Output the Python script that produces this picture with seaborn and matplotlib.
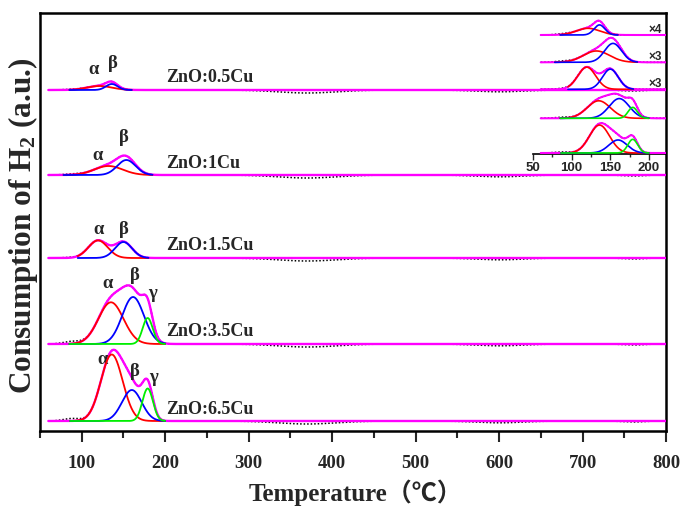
import numpy as np
import seaborn as sns
import matplotlib.pyplot as plt
from matplotlib.ticker import MultipleLocator

# samples, from top to bottom
samples = ['ZnO:0.5Cu', 'ZnO:1Cu', 'ZnO:1.5Cu', 'ZnO:3.5Cu', 'ZnO:6.5Cu']
offsets = [341, 256, 173, 87, 10]          # vertical stacking (main panel)
inset_offsets = [119, 91.7, 64.7, 35.7, 1]  # vertical stacking (inset)
inset_mult = [4, 3, 3, 1, 1]
inset_labels = ['×4', '×3', '×3', '', '']

# fitted reduction peaks: centre (°C), height (a.u.), sigma (°C)
alpha_center = [121, 132, 119.5, 135, 136]
alpha_height = [4.0, 9.0, 17.6, 41.7, 66.5]
alpha_sigma = [15, 17, 11.6, 15, 13]
beta_center = [136, 153.5, 150, 161.5, 160]
beta_height = [6.0, 15.0, 16.0, 47.0, 31.0]
beta_sigma = [7, 11, 10.2, 13, 11.8]
gamma_center = [180, 180, 180, 179, 179]
gamma_height = [0, 0, 0, 26.0, 32.5]
gamma_sigma = [6, 6, 6, 6, 6.3]

# temperature span over which the fitted components were drawn
fit_lo = [85, 78, 95, 85, 86]
fit_hi = [160, 185, 180, 200, 200]

# measured signal: low temperature shoulder and negative baseline drifts
shoulder_height = [0.5, 0.8, 0.5, 2.5, 2.5]
dip_center = [370, 600, 760]
dip_sigma = [35, 28, 12]
dip_depth = [3.0, 1.8, 1.0]

# peak labels (x in °C, y relative to each baseline)
greek = [
    [('α', 114, 20), ('β', 137, 27)],
    [('α', 119, 20), ('β', 150, 38)],
    [('α', 120, 28), ('β', 150, 28)],
    [('α', 131, 61), ('β', 164, 69), ('γ', 185, 51)],
    [('α', 125, 61), ('β', 164, 49), ('γ', 186, 43)],
]


def gauss(t, c, h, s):
    return h * np.exp(-(t - c) ** 2 / (2 * s ** 2))


def components(t, i):
    a = gauss(t, alpha_center[i], alpha_height[i], alpha_sigma[i])
    b = gauss(t, beta_center[i], beta_height[i], beta_sigma[i])
    g = gauss(t, gamma_center[i], gamma_height[i], gamma_sigma[i])
    return a, b, g


def measured(t, i):
    a, b, g = components(t, i)
    y = a + b + g + gauss(t, 88, shoulder_height[i], 10)
    for c, s, d in zip(dip_center, dip_sigma, dip_depth):
        y = y - gauss(t, c, d, s)
    return y


sns.set_style('white')
plt.rcParams['font.family'] = ['Liberation Serif', 'Noto Sans CJK SC', 'DejaVu Sans']
plt.rcParams['font.weight'] = 'bold'
plt.rcParams['mathtext.fontset'] = 'custom'
plt.rcParams['mathtext.rm'] = 'Liberation Serif:bold'
plt.rcParams['mathtext.bf'] = 'Liberation Serif:bold'
plt.rcParams['mathtext.default'] = 'bf'

W, H = 681, 508
fig = plt.figure(figsize=(W / 100, H / 100), dpi=100)
ax = fig.add_axes([40 / W, (H - 431) / H, 626 / W, 418 / H])
ins = fig.add_axes([533 / W, (H - 154) / H, 133 / W, 141 / H])
ins.patch.set_alpha(0)

colors = {'alpha': '#ff0000', 'beta': '#0000ff', 'gamma': '#00ee00'}


def draw(axis, t, i, base, scale, lw_tot, lw_comp):
    y_exp = measured(t, i) * scale + base
    a, b, g = components(t, i)
    y_tot = (a + b + g) * scale + base
    sns.lineplot(x=t, y=y_exp, ax=axis, color='black', lw=1.1,
                 linestyle=(0, (1, 1.3)), sort=False, estimator=None, zorder=2)
    sns.lineplot(x=t, y=y_tot, ax=axis, color='#ff00ff', lw=lw_tot,
                 sort=False, estimator=None, zorder=3)
    m = (t >= fit_lo[i]) & (t <= fit_hi[i])
    comps = [('alpha', a), ('beta', b)]
    if gamma_height[i] > 0:
        comps.append(('gamma', g))
    for z, (name, c) in enumerate(comps):
        sns.lineplot(x=t[m], y=c[m] * scale + base, ax=axis, color=colors[name],
                     lw=lw_comp, sort=False, estimator=None, zorder=4 + z)


t_main = np.linspace(60, 800, 2000)
t_ins = np.linspace(60, 222, 600)
for i, name in enumerate(samples):
    draw(ax, t_main, i, offsets[i], 1.0, 1.7, 1.3)
    draw(ins, t_ins, i, inset_offsets[i], 0.42 * inset_mult[i], 1.5, 1.2)
    ax.text(201, offsets[i] + 12, name, fontsize=13, fontweight='bold',
            ha='left', va='center')
    for sym, x, dy in greek[i]:
        ax.text(x, offsets[i] + dy, sym, fontsize=13.5, fontweight='bold',
                ha='center', va='center')
    if inset_labels[i]:
        ins.text(217, inset_offsets[i] + 5, inset_labels[i], fontsize=8.5,
                 fontweight='bold', family='Liberation Sans', ha='right', va='center')

# main axes
ax.set_xlim(50, 800)
ax.set_ylim(0, 418)
ax.set_yticks([])
ax.xaxis.set_minor_locator(MultipleLocator(50))
ax.set_xticks([100, 200, 300, 400, 500, 600, 700, 800])
ax.tick_params(axis='x', which='major', direction='out', length=8, width=1.5,
               labelsize=13.5, pad=9, bottom=True)
ax.tick_params(axis='x', which='minor', direction='out', length=5, width=1.5,
               bottom=True)
for lab in ax.get_xticklabels():
    lab.set_fontweight('bold')
for sp in ax.spines.values():
    sp.set_linewidth(1.8)
    sp.set_color('black')
ax.set_xlabel('')
ax.set_ylabel('')

# inset axes
ins.set_xlim(50, 222)
ins.set_ylim(0, 141)
ins.set_yticks([])
ins.xaxis.set_major_locator(MultipleLocator(50))
ins.xaxis.set_minor_locator(MultipleLocator(25))
ins.tick_params(axis='x', which='major', direction='out', length=4, width=1,
                labelsize=9.5, pad=1.5, bottom=True)
ins.tick_params(axis='x', which='minor', direction='out', length=2.5, width=1,
                bottom=True)
for lab in ins.get_xticklabels():
    lab.set_fontweight('bold')
    lab.set_family('Liberation Sans')
for k in ['top', 'left', 'right']:
    ins.spines[k].set_visible(False)
ins.spines['bottom'].set_linewidth(1.2)
ins.spines['bottom'].set_color('black')
ins.set_xlabel('')
ins.set_ylabel('')

fig.text(356 / W, 1 - 493 / H, 'Temperature（℃）', fontsize=18, fontweight='bold',
         ha='center', va='center')
fig.text(23 / W, 1 - 226 / H, r'Consumption of H$_2$ (a.u.)', fontsize=22.5,
         fontweight='bold', rotation=90, ha='center', va='center')

fig.savefig('out.png', dpi=100)
